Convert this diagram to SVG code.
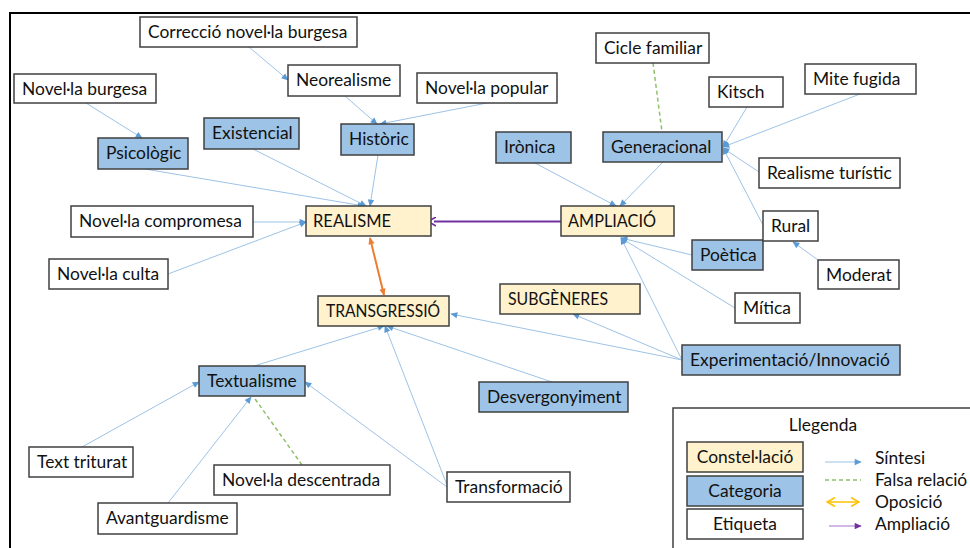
<svg xmlns="http://www.w3.org/2000/svg" width="970" height="548" viewBox="0 0 970 548">
<style>
text{font-family:Lato,"Liberation Sans",sans-serif;font-size:17.4px;fill:#111}
.c{fill:#FFF2CC;stroke:#404040;stroke-width:1.5}
.k{fill:#9DC3E6;stroke:#404040;stroke-width:1.5}
.e{fill:#fff;stroke:#404040;stroke-width:1.5}
.s{stroke:#9DC3E6;stroke-width:1;fill:none;marker-end:url(#a)}
.f{stroke:#8FC16A;stroke-width:1.5;stroke-dasharray:4 3;fill:none}
.m{text-anchor:middle}
</style>
<defs>
<marker id="a" viewBox="0 0 10 10" refX="9" refY="5" markerWidth="8" markerHeight="7" markerUnits="userSpaceOnUse" orient="auto"><path d="M0,0.5 L10,5 L0,9.5 z" fill="#5B9BD5"/></marker>
<marker id="o" viewBox="0 0 10 10" refX="9" refY="5" markerWidth="8" markerHeight="7" markerUnits="userSpaceOnUse" orient="auto-start-reverse"><path d="M0,0.5 L10,5 L0,9.5 z" fill="#ED7D31"/></marker>
<marker id="p" viewBox="0 0 10 10" refX="2" refY="5" markerWidth="10" markerHeight="10" markerUnits="userSpaceOnUse" orient="auto"><path d="M0,0.5 L8,5 L0,9.5" fill="none" stroke="#7030A0" stroke-width="1.6"/></marker>
<marker id="pf" viewBox="0 0 10 10" refX="9" refY="5" markerWidth="8" markerHeight="7" markerUnits="userSpaceOnUse" orient="auto"><path d="M0,0.5 L10,5 L0,9.5 z" fill="#7030A0"/></marker>
<marker id="y" viewBox="0 0 10 10" refX="9" refY="5" markerWidth="10" markerHeight="10" markerUnits="userSpaceOnUse" orient="auto-start-reverse"><path d="M1,0.5 L9,5 L1,9.5" fill="none" stroke="#FFC000" stroke-width="1.6"/></marker>
</defs>
<rect x="10" y="13" width="980" height="560" fill="#fff" stroke="#000" stroke-width="2"/>
<g id="connectors">
<path class="s" d="M249,47 L288,80"/>
<path class="s" d="M345,96 L377,124"/>
<path class="s" d="M487,103 L380,124"/>
<path class="s" d="M86,103 L142,138"/>
<path class="s" d="M145,169 L364,206"/>
<path class="s" d="M253,149 L366,206"/>
<path class="s" d="M378,155 L370,206"/>
<path class="s" d="M253,222 L306,222"/>
<path class="s" d="M168,274 L306,222"/>
<path d="M561,221.5 L434,221.5" stroke="#7030A0" stroke-width="2" fill="none" marker-end="url(#p)"/>
<path d="M370,238 L384,295" stroke="#ED7D31" stroke-width="2" fill="none" marker-start="url(#o)" marker-end="url(#o)"/>
<path class="s" d="M535,163 L616,206"/>
<path class="s" d="M663,162 L620,206"/>
<path class="f" d="M653,63 L662,132"/>
<path class="s" d="M747,107 L723,147"/>
<path class="s" d="M860,94 L723,147"/>
<path class="s" d="M759,172 L723,148"/>
<path class="s" d="M763,225 L723,148"/>
<path class="s" d="M818,260 L793,242"/>
<path class="s" d="M692,255 L621,238"/>
<path class="s" d="M735,308 L621,238"/>
<path class="s" d="M682,360 L621,238"/>
<path class="s" d="M682,360 L573,314"/>
<path class="s" d="M682,360 L451,314"/>
<path class="s" d="M552,382 L387,326"/>
<path class="s" d="M447,485 L385,326"/>
<path class="s" d="M447,487 L305,382"/>
<path class="s" d="M254,366 L384,326"/>
<path class="s" d="M82,447 L199,382"/>
<path class="s" d="M168,503 L251,397"/>
<path class="f" d="M302,465 L253,396"/>
</g>
<g id="n-correccio"><rect class="e" x="140" y="17" width="217" height="30"/><text x="148" y="38">Correcció novel·la burgesa</text></g>
<g id="n-neorealisme"><rect class="e" x="288" y="65" width="112" height="31"/><text x="296" y="86">Neorealisme</text></g>
<g id="n-novella-burgesa"><rect class="e" x="14" y="74" width="142" height="29"/><text x="22" y="95">Novel·la burgesa</text></g>
<g id="n-novella-popular"><rect class="e" x="417" y="73" width="140" height="30"/><text x="425" y="94">Novel·la popular</text></g>
<g id="n-cicle"><rect class="e" x="596" y="33" width="113" height="30"/><text x="604" y="54">Cicle familiar</text></g>
<g id="n-kitsch"><rect class="e" x="709" y="77" width="74" height="30"/><text x="717" y="98">Kitsch</text></g>
<g id="n-mite"><rect class="e" x="805" y="64" width="111" height="30"/><text x="813" y="85">Mite fugida</text></g>
<g id="n-realisme-turistic"><rect class="e" x="759" y="158" width="141" height="30"/><text x="767" y="179">Realisme turístic</text></g>
<g id="n-psicologic"><rect class="k" x="98" y="138" width="90" height="31"/><text x="106" y="159">Psicològic</text></g>
<g id="n-existencial"><rect class="k" x="204" y="118" width="95" height="31"/><text x="212" y="139">Existencial</text></g>
<g id="n-historic"><rect class="k" x="341" y="124" width="73" height="31"/><text x="349" y="145">Històric</text></g>
<g id="n-ironica"><rect class="k" x="496" y="132" width="75" height="31"/><text x="504" y="153">Irònica</text></g>
<g id="n-generacional"><rect class="k" x="603" y="132" width="119" height="30"/><text x="611" y="153">Generacional</text></g>
<g id="n-novella-compromesa"><rect class="e" x="71" y="206" width="182" height="31"/><text x="79" y="227">Novel·la compromesa</text></g>
<g id="n-realisme"><rect class="c" x="306" y="206" width="125" height="30"/><text x="313" y="227" textLength="78" lengthAdjust="spacingAndGlyphs">REALISME</text></g>
<g id="n-ampliacio"><rect class="c" x="561" y="206" width="113" height="30"/><text x="568" y="227" textLength="88" lengthAdjust="spacingAndGlyphs">AMPLIACIÓ</text></g>
<g id="n-novella-culta"><rect class="e" x="49" y="259" width="119" height="30"/><text x="57" y="280">Novel·la culta</text></g>
<g id="n-poetica"><rect class="k" x="692" y="240" width="71" height="30"/><text x="700" y="261">Poètica</text></g>
<g id="n-rural"><rect class="e" x="763" y="211" width="55" height="30"/><text x="771" y="232">Rural</text></g>
<g id="n-moderat"><rect class="e" x="818" y="260" width="81" height="29"/><text x="826" y="281">Moderat</text></g>
<g id="n-subgeneres"><rect class="c" x="500" y="284" width="140" height="30"/><text x="508" y="305" textLength="100" lengthAdjust="spacingAndGlyphs">SUBGÈNERES</text></g>
<g id="n-transgressio"><rect class="c" x="318" y="296" width="131" height="30"/><text x="326" y="317" textLength="114" lengthAdjust="spacingAndGlyphs">TRANSGRESSIÓ</text></g>
<g id="n-mitica"><rect class="e" x="735" y="293" width="65" height="30"/><text x="743" y="314">Mítica</text></g>
<g id="n-experimentacio"><rect class="k" x="682" y="345" width="218" height="30"/><text x="690" y="366">Experimentació/Innovació</text></g>
<g id="n-textualisme"><rect class="k" x="199" y="366" width="106" height="30"/><text x="207" y="387">Textualisme</text></g>
<g id="n-desvergonyiment"><rect class="k" x="479" y="382" width="149" height="30"/><text x="487" y="403">Desvergonyiment</text></g>
<g id="n-text-triturat"><rect class="e" x="29" y="447" width="104" height="30"/><text x="37" y="468">Text triturat</text></g>
<g id="n-novella-descentrada"><rect class="e" x="214" y="465" width="176" height="30"/><text x="222" y="486">Novel·la descentrada</text></g>
<g id="n-transformacio"><rect class="e" x="447" y="472" width="123" height="30"/><text x="455" y="493">Transformació</text></g>
<g id="n-avantguardisme"><rect class="e" x="98" y="503" width="139" height="31"/><text x="106" y="524">Avantguardisme</text></g>
<g id="legend">
<rect x="673" y="408" width="320" height="160" fill="#fff" stroke="#404040" stroke-width="1.5"/>
<text class="m" x="823" y="431">Llegenda</text>
<rect class="c" x="687" y="442" width="116" height="30"/><text class="m" x="745" y="463">Constel·lació</text>
<rect class="k" x="687" y="476" width="116" height="30"/><text class="m" x="745" y="497">Categoria</text>
<rect class="e" x="687" y="509" width="116" height="30"/><text class="m" x="745" y="530">Etiqueta</text>
<path d="M825,462 L861,462" stroke="#9DC3E6" stroke-width="1" marker-end="url(#a)"/>
<path d="M825,480 L861,480" class="f"/>
<path d="M827,502 L859,502" stroke="#FFC000" stroke-width="1.5" marker-start="url(#y)" marker-end="url(#y)"/>
<path d="M829,526 L861,526" stroke="#B48AD0" stroke-width="1.2" marker-end="url(#pf)"/>
<text x="875" y="464">Síntesi</text>
<text x="875" y="486">Falsa relació</text>
<text x="875" y="508">Oposició</text>
<text x="875" y="530">Ampliació</text>
</g>
</svg>
